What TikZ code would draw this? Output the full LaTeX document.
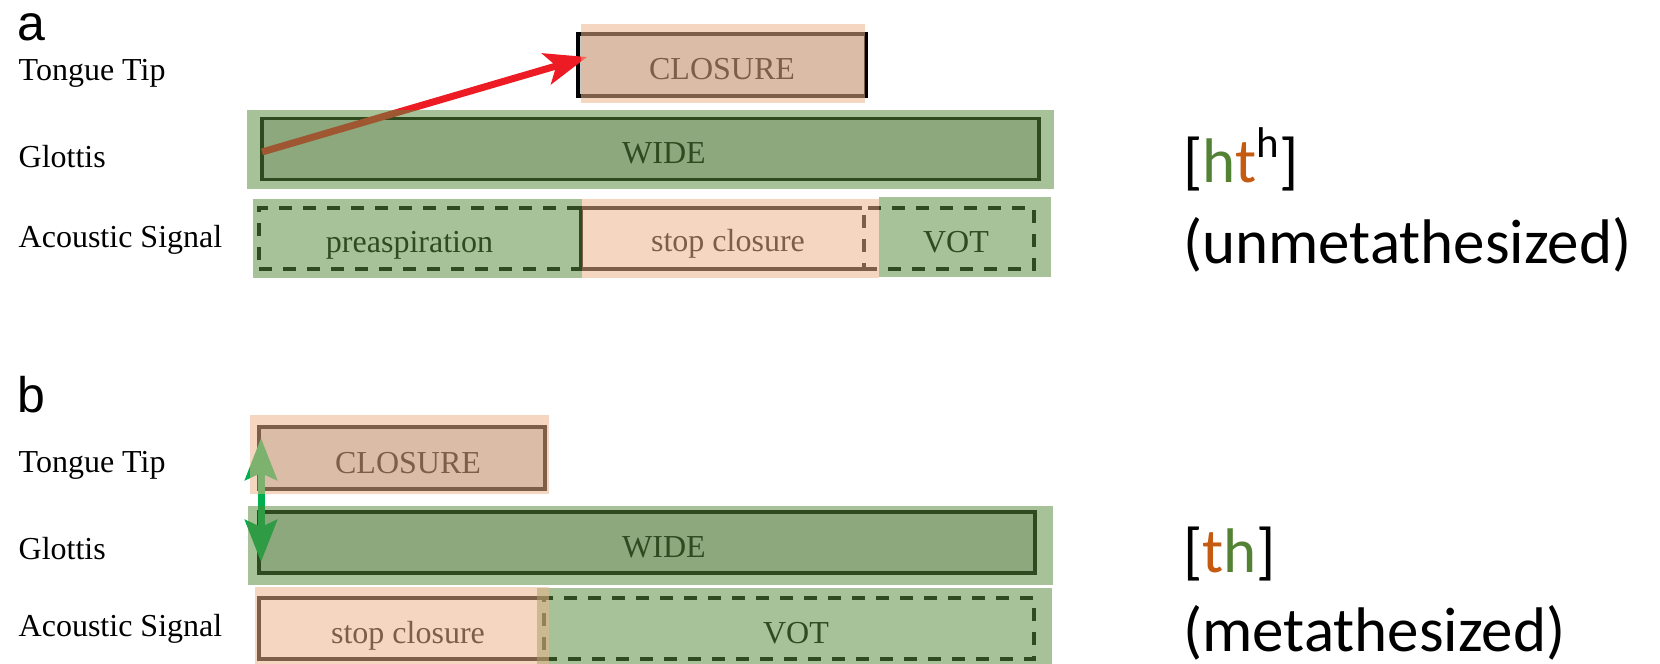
\documentclass[tikz,border=0pt]{standalone}
\usepackage{fontspec}
\setmainfont{Liberation Serif}
\newfontfamily\panelfont{Liberation Sans}
\newfontfamily\ipafont{Carlito}
\usetikzlibrary{arrows.meta}

\definecolor{peach}{RGB}{237,178,138}
\definecolor{leaf}{RGB}{89,140,60}
\definecolor{boxgray}{RGB}{200,200,200}
\definecolor{arrowred}{RGB}{237,28,36}
\definecolor{arrowgreen}{RGB}{0,176,80}
\definecolor{hgreen}{RGB}{84,130,53}
\definecolor{torange}{RGB}{197,90,17}

\begin{document}
\begin{tikzpicture}[x=1pt,y=-1pt,
  panel/.style={anchor=base west, inner sep=0pt, font=\panelfont\fontsize{50}{50}\selectfont},
  tier/.style={anchor=base west, inner sep=0pt, font=\fontsize{32}{38}\selectfont},
  boxtext/.style={anchor=base, inner sep=0pt, font=\fontsize{32}{38}\selectfont},
  ipa/.style={anchor=base west, inner sep=0pt, font=\ipafont\fontsize{63}{70}\selectfont},
  gesture/.style={rectangle, draw=black, fill=boxgray, line width=3.2pt, inner sep=0pt, outer sep=0pt},
  interval/.style={rectangle, inner sep=0pt, outer sep=0pt},
  dashedbox/.style={interval, draw=black, line width=3.2pt, dash pattern=on 13pt off 11pt},
  solidedge/.style={draw=black, line width=3.2pt},
  tintpeach/.style={fill=peach, fill opacity=0.53},
  tintleaf/.style={fill=leaf, fill opacity=0.53},
  timing/.style={line width=7pt, arrowred, -{Stealth[length=42pt, width=32pt, inset=10pt]}},
  overlap/.style={line width=7pt, arrowgreen, {Stealth[length=42pt, width=32pt, inset=7pt]}-{Stealth[length=42pt, width=32pt, inset=7pt]}}
]
\useasboundingbox (0,0) rectangle (1660,664);

% ---------- panel a: [ht^h] ----------
\node[panel] (pa) at (17,40) {a};
\node[tier] (tipA) at (18.5,80) {Tongue Tip};
\node[tier] (gloA) at (18.5,167) {Glottis};
\node[tier] (acuA) at (18.5,247) {Acoustic Signal};

\node[gesture, minimum width=288pt, minimum height=62pt] (closA) at (722,65) {};
\node[boxtext] (closAtxt) at (722,79) {CLOSURE};
\node[gesture, minimum width=777pt, minimum height=61pt] (wideA) at (650.5,149) {};
\node[boxtext] (wideAtxt) at (664,163) {WIDE};

\node[dashedbox, minimum width=322pt, minimum height=61pt] (preA) at (420,238.5) {};
\node[interval, minimum width=296pt, minimum height=61pt] (stopA) at (729,238.5) {};
\draw[solidedge] (stopA.south east) -- (stopA.south west) -- (stopA.north west) -- ([xshift=-15pt]stopA.north east);
\node[dashedbox, minimum width=170pt, minimum height=61pt] (votA) at (949,238.5) {};
\node[boxtext] (preAtxt) at (409.5,252) {preaspiration};
\node[boxtext] (stopAtxt) at (728,251) {stop closure};
\node[boxtext] (votAtxt) at (956,252) {VOT};

\coordinate (redtail) at ([yshift=-3pt]wideA.west);
\coordinate (redtip) at ([xshift=9pt, yshift=8pt]closA.west);
\draw[timing] (redtail) -- (redtip);

% tinted highlights
\fill[tintpeach] (581,24) rectangle (865,103);
\fill[tintleaf] (247,110) rectangle (1054,189);
\fill[tintleaf] (253,199) rectangle (582,278);
\fill[tintpeach] (582,199) rectangle (879,278);
\fill[tintleaf] (879,197) rectangle (1051,277);

\node[ipa] (ipaA) at (1183,182) {[\textcolor{hgreen}{h}\textcolor{torange}{t}\raisebox{25pt}{\fontsize{43}{43}\selectfont h}]};
\node[ipa] (noteA) at (1183,263) {(unmetathesized)};

% ---------- panel b: [th] ----------
\node[panel] (pb) at (17,412) {b};
\node[tier] (tipB) at (18.5,472) {Tongue Tip};
\node[tier] (gloB) at (18.5,559) {Glottis};
\node[tier] (acuB) at (18.5,636) {Acoustic Signal};

\node[gesture, minimum width=286pt, minimum height=62pt] (closB) at (402,458) {};
\node[boxtext] (closBtxt) at (408,473) {CLOSURE};
\node[gesture, minimum width=776pt, minimum height=61pt] (wideB) at (647,542.5) {};
\node[boxtext] (wideBtxt) at (664,557) {WIDE};

\node[interval, minimum width=288pt, minimum height=61pt] (stopB) at (403,628.5) {};
\draw[solidedge] (stopB.south east) -- (stopB.south west) -- (stopB.north west) -- ([xshift=-5pt]stopB.north east);
\node[dashedbox, minimum width=490pt, minimum height=61pt] (votB) at (789,628.5) {};
\node[boxtext] (stopBtxt) at (408,643) {stop closure};
\node[boxtext] (votBtxt) at (796,643) {VOT};

\coordinate (gtop) at (261,438);
\coordinate (gbot) at (261,562);
\draw[overlap] (gbot) -- (gtop);

% tinted highlights
\fill[tintpeach] (250,415) rectangle (549,494);
\fill[tintleaf] (248,506) rectangle (1053,585);
\fill[tintleaf] (537,588) rectangle (1052,664);
\fill[tintpeach] (255,587) rectangle (549,664);

\node[ipa] (ipaB) at (1183,572) {[\textcolor{torange}{t}\textcolor{hgreen}{h}]};
\node[ipa] (noteB) at (1183,651) {(metathesized)};
\end{tikzpicture}
\end{document}
